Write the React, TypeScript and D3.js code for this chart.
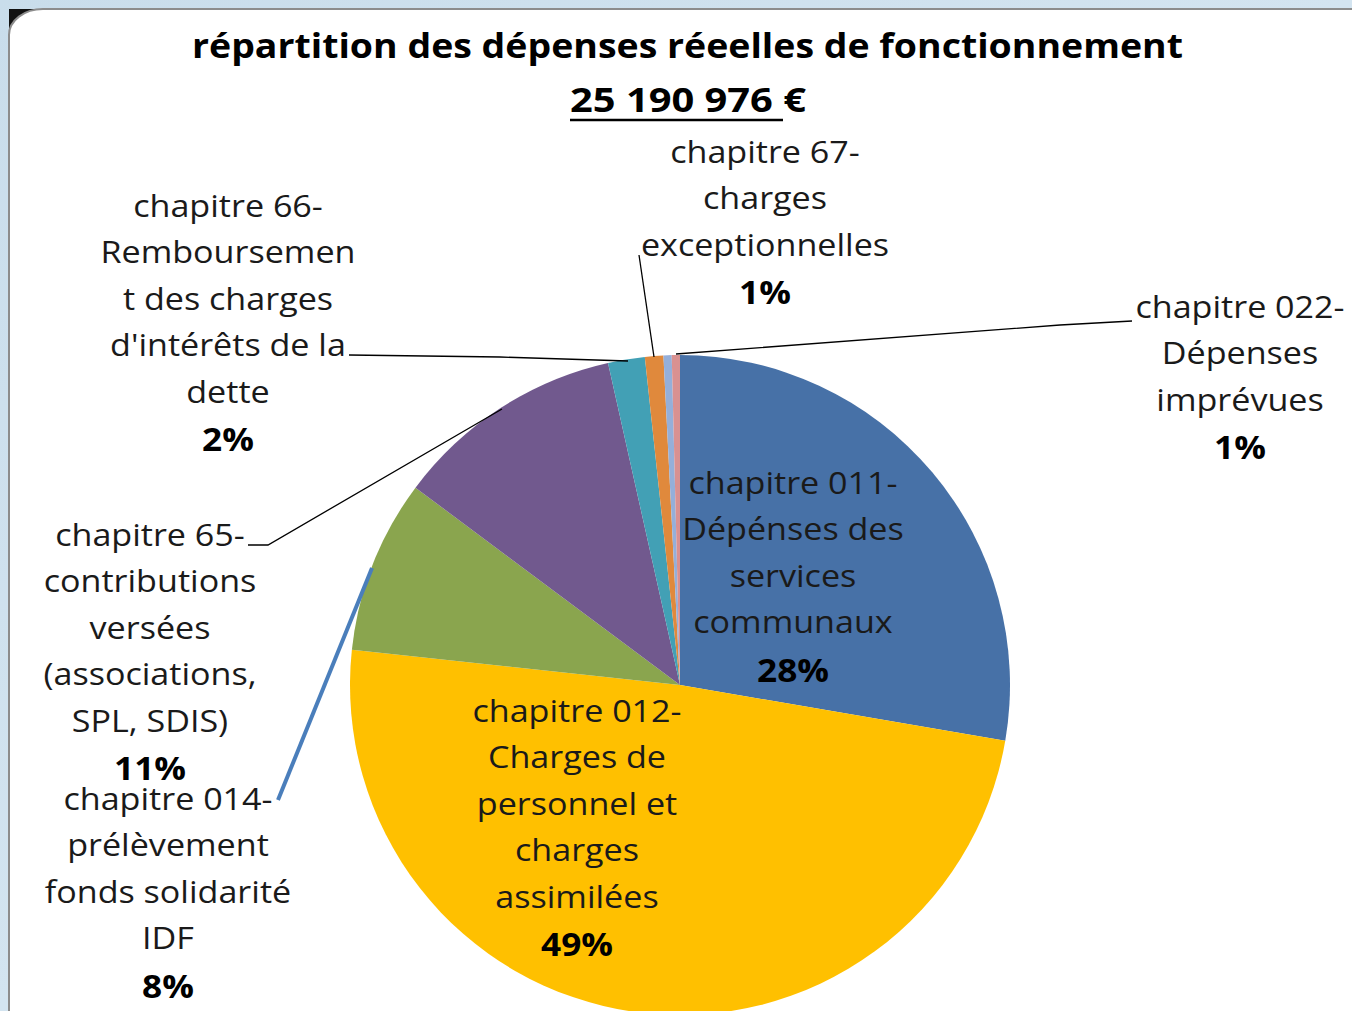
import React from "react";
import * as d3 from "d3";

const categories = [
  "chapitre 011",
  "chapitre 012",
  "chapitre 014",
  "chapitre 65",
  "chapitre 66",
  "chapitre 67",
  "chapitre 68",
  "chapitre 022",
];
// slice shares as drawn (percent of the circle)
const values = [27.7, 49.0, 8.5, 11.3, 1.8, 0.9, 0.4, 0.4];
const colors = ["#4771A7", "#FFC000", "#8AA54E", "#71598E", "#42A0B5", "#E0893C", "#95AFD9", "#D99191"];

const labelLines: string[][] = [
  ["chapitre 011-", "Dépénses des", "services", "communaux"],
  ["chapitre 012-", "Charges de", "personnel et", "charges", "assimilées"],
  ["chapitre 014-", "prélèvement", "fonds solidarité", "IDF"],
  ["chapitre 65-", "contributions", "versées", "(associations,", "SPL, SDIS)"],
  ["chapitre 66-", "Remboursemen", "t des charges", "d'intérêts de la", "dette"],
  ["chapitre 67-", "charges", "exceptionnelles"],
  [],
  ["chapitre 022-", "Dépenses", "imprévues"],
];
const labelPercents = ["28%", "49%", "8%", "11%", "2%", "1%", "", "1%"];

const title = "répartition des dépenses réeelles de fonctionnement";
const totalText = "25 190 976";

// layout (label anchor: center x, first baseline y)
const labelPos: [number, number][] = [
  [793, 494],
  [577, 722],
  [168, 810],
  [150, 546],
  [228, 217],
  [765, 163],
  [0, 0],
  [1240, 318],
];
const LINE = 46.4;
const SX = 1.1;

export default function App() {
  const W = 1352, H = 1011;
  const cx = 680, cy = 685, r = 330;
  const data = categories.map((c, i) => ({ c, v: values[i], i }));
  const pie = d3.pie<any>().sort(null).value((d: any) => d.v).startAngle(0).endAngle(2 * Math.PI);
  const arcs = pie(data);
  const arc = d3.arc<any>().innerRadius(0).outerRadius(r);
  const font = "'Open Sans', 'Noto Sans', sans-serif";

  return (
    <svg width={W} height={H} style={{ position: "absolute", left: 0, top: 0, display: "block" }}>
      <defs>
        <linearGradient id="bg" x1="0" y1="0" x2="1" y2="1">
          <stop offset="0" stopColor="#C9DDEB" />
          <stop offset="0.5" stopColor="#D3E4F0" />
          <stop offset="1" stopColor="#C2D8E8" />
        </linearGradient>
      </defs>
      <rect x={0} y={0} width={W} height={H} fill="url(#bg)" />
      <rect x={9} y={9} width={1400} height={1100} fill="#111" />
      <rect x={9} y={9} width={1400} height={1100} rx={34} ry={26} fill="#fff" stroke="#8c8c8c" strokeWidth={2} />

      <g transform={`translate(${cx},${cy})`}>
        {arcs.map((a, k) => (
          <path key={k} d={arc(a) as string} fill={colors[k]} />
        ))}
      </g>

      {/* leader lines */}
      <g fill="none" stroke="#000" strokeWidth={1.3}>
        <line x1={639} y1={255} x2={654} y2={357} />
        <polyline points="1132,321 1060,325 676,354" />
        <polyline points="349,355 500,357 628,361" />
        <polyline points="248,545 268,545 502,409" />
      </g>
      <line x1={278} y1={800} x2={372} y2={568} stroke="#4A7EBB" strokeWidth={4} />

      {/* title */}
      <text x={192} y={58} fontFamily={font} fontWeight="bold" fontSize={34} fill="#000"
        textLength={991} lengthAdjust="spacingAndGlyphs">
        {title}
      </text>
      <text x={570} y={112} fontFamily={font} fontWeight="bold" fontSize={34} fill="#000"
        textLength={236} lengthAdjust="spacingAndGlyphs">
        {totalText} €
      </text>
      <line x1={570} y1={120} x2={783} y2={120} stroke="#000" strokeWidth={2.5} />

      {labelLines.map((lines, i) => {
        if (!lines.length) return null;
        const [x, y] = labelPos[i];
        return (
          <text key={i} x={x} y={y} textAnchor="middle" fontFamily={font} fontSize={31} fill="#1a1a1a"
            transform={`translate(${x},0) scale(${SX},1) translate(${-x},0)`}>
            {lines.map((l, j) => (
              <tspan key={j} x={x} y={y + j * LINE}>{l}</tspan>
            ))}
            <tspan x={x} y={y + lines.length * LINE + 2} fontWeight="bold" fontSize={32} fill="#000">
              {labelPercents[i]}
            </tspan>
          </text>
        );
      })}
    </svg>
  );
}
